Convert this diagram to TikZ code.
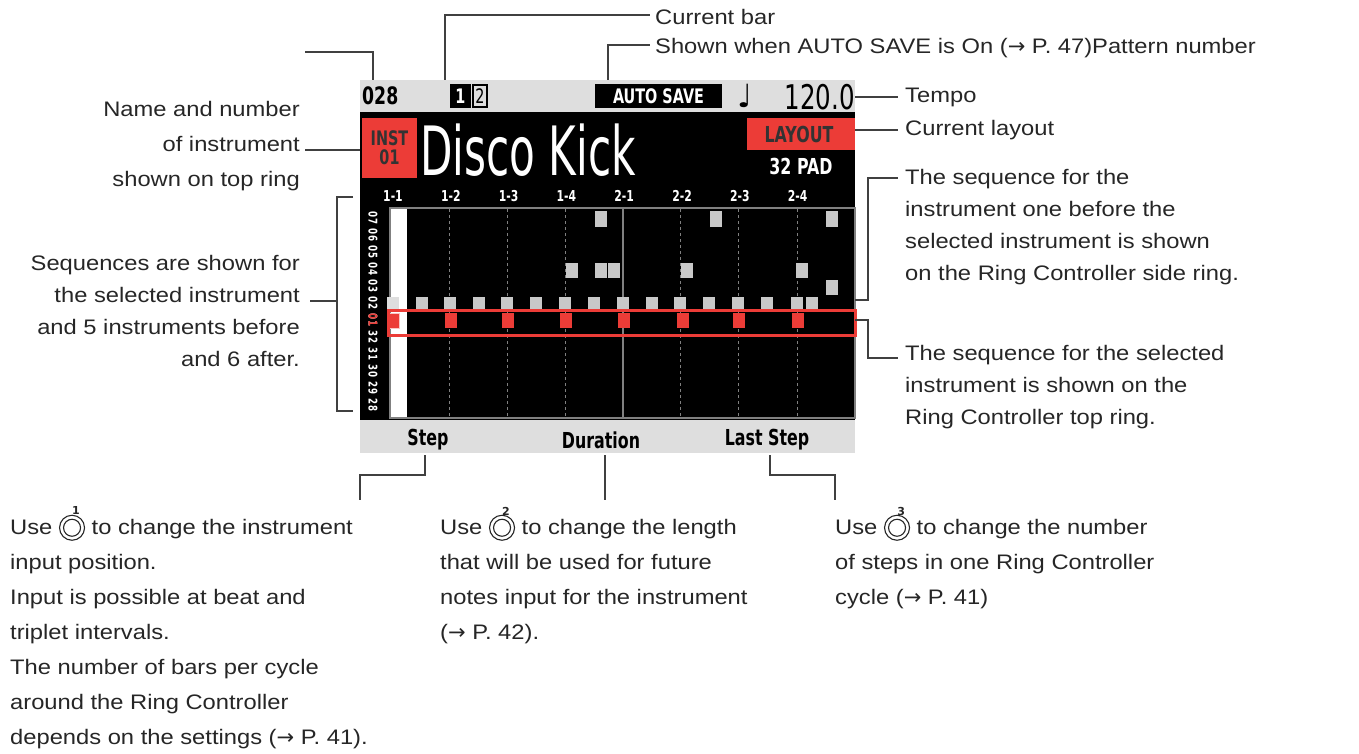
\documentclass[tikz,border=0pt]{standalone}
\usepackage{fontspec}
\setmainfont{Liberation Sans}[FakeStretch=1.13]
\newfontfamily\lcd[FakeStretch=0.72]{DejaVu Sans}
\newfontfamily\lcdname[FakeStretch=0.62]{DejaVu Sans}
\newfontfamily\symb{DejaVu Sans}
\definecolor{lcdred}{RGB}{236,60,55}
\definecolor{lcdgray}{RGB}{200,200,200}
\definecolor{bargray}{RGB}{222,222,222}
\tikzset{
    note/.style={anchor=west,inner sep=0pt,font=\fontsize{21}{22}\selectfont,text=black!85},
    noter/.style={note,anchor=east},
    lead/.style={black!75,line width=1.3pt},
    lcdtxt/.style={inner sep=0pt,font=\lcd\bfseries},
    cell/.style={fill=lcdgray,draw=none}
}
\newcommand{\knob}[1]{\smash{\tikz[baseline=-0.6ex]{\draw[line width=1.1pt] (0,0) circle (12.5pt);
    \draw[line width=1.1pt] (0,0) circle (8.5pt);
    \node[inner sep=0pt,font=\symb\fontsize{11}{11}\selectfont\bfseries] at (0,21pt) {#1};}}}
\begin{document}
\begin{tikzpicture}[x=1pt,y=-1pt]
    \useasboundingbox (0,0) rectangle (1359,754);

    % Screen frame
    \fill[bargray] (360,80) rectangle (855,112);
    \fill[black] (360,112) rectangle (855,420);
    \fill[bargray] (360,420) rectangle (855,453);

    % Status bar
    \node[lcdtxt,anchor=west,font=\lcd\bfseries\fontsize{24}{24}\selectfont] (pat) at (362,96) {028};
    \fill[black] (450,84) rectangle (471,108);
    \draw[black,line width=1.2pt] (473,85) rectangle (487,107);
    \node[lcdtxt,text=white,font=\lcd\bfseries\fontsize{20}{20}\selectfont] (bar1) at (460.5,96) {1};
    \node[lcdtxt,font=\lcd\fontsize{20}{20}\selectfont] (bar2) at (480,96) {2};
    \fill[black] (595,84) rectangle (722,108);
    \node[lcdtxt,text=white,font=\lcd\bfseries\fontsize{20}{20}\selectfont] (autosave) at (658.5,96) {AUTO SAVE};
    \node[inner sep=0pt,font=\symb\fontsize{32}{32}\selectfont] (beat) at (745,96) {♩};
    \node[lcdtxt,anchor=east,font=\lcd\fontsize{34}{34}\selectfont] (tempo) at (855,97) {120.0};

    % Instrument name
    \fill[lcdred] (362,118) rectangle (417,178);
    \node[lcdtxt,text=black!80,align=center,font=\lcd\bfseries\fontsize{20}{19}\selectfont] (inst) at (389.5,148) {INST\\01};
    \node[lcdtxt,anchor=west,text=white,font=\lcdname\fontsize{68}{68}\selectfont] (name) at (420,150) {Disco Kick};
    \fill[lcdred] (747,118) rectangle (855,150);
    \node[lcdtxt,text=black!80,font=\lcd\bfseries\fontsize{22}{22}\selectfont] (layout) at (799,134) {LAYOUT};
    \node[lcdtxt,text=white,font=\lcd\bfseries\fontsize{22}{22}\selectfont] (pad) at (801,166) {32 PAD};

    % Column labels
    \foreach \lab [count=\i from 0] in {1-1,1-2,1-3,1-4,2-1,2-2,2-3,2-4}
        \node[lcdtxt,text=white,font=\lcd\bfseries\fontsize{15}{15}\selectfont] at (393+57.8*\i,196) {\lab};

    % Row labels
    \foreach \lab [count=\i from 0] in {07,06,05,04,03,02,01,32,31,30,29,28}
        \node[lcdtxt,rotate=-90,text=white,font=\lcd\bfseries\fontsize{12}{12}\selectfont] at (373,218+17*\i) {\lab};
    \node[lcdtxt,rotate=-90,text=lcdred,font=\lcd\bfseries\fontsize{12}{12}\selectfont] at (373,320) {01};

    % Grid
    \draw[gray,line width=1.5pt] (390,208) rectangle (855,418);
    \fill[white] (391,209) rectangle (407,417);
    \foreach \x in {449,507,565,680,738,797}
        \draw[gray,dashed,line width=1pt] (\x,209) -- (\x,417);
    \draw[gray,line width=1.3pt] (623,209) -- (623,417);

    % Sequence one before
    \foreach \x in {422,450,479,507,536,565,594,623,652,680,709,738,767,797,812}
        \fill[cell] (\x-6,297) rectangle (\x+6,309);
    \fill[lcdgray!60] (387,297) rectangle (399,309);
    \foreach \x in {601,716,832}
        \fill[cell] (\x-6,211) rectangle (\x+6,227);
    \foreach \x in {572,601,614,687,802}
        \fill[cell] (\x-6,263) rectangle (\x+6,278);
    \fill[cell] (826,280) rectangle (838,295);

    % Selected sequence
    \foreach \x in {450,507,565,623,682,738,797}
        \fill[lcdred] (\x-5,313) rectangle (\x+7,328);
    \fill[lcdred] (387,313) rectangle (400,328);
    \draw[white!70!lcdred,line width=1pt] (388,313) rectangle (399,328);
    \draw[lcdred,line width=3pt] (388,310) rectangle (855,335);

    % Function bar
    \node[lcdtxt,font=\lcd\bfseries\fontsize{22}{22}\selectfont] (step) at (428,440) {Step};
    \node[lcdtxt,font=\lcd\bfseries\fontsize{22}{22}\selectfont] (dur) at (601,440) {Duration};
    \node[lcdtxt,font=\lcd\bfseries\fontsize{22}{22}\selectfont] (last) at (767,440) {Last Step};

    % Top callouts
    \draw[lead] (305,52) -- (373,52) -- (373,80);
    \draw[lead] (445,80) -- (445,15) -- (650,15);
    \node[note] (curbar) at (655,17) {Current bar};
    \draw[lead] (608,80) -- (608,45) -- (650,45);
    \node[note] (shown) at (655,48) {Shown when AUTO SAVE is On ({\symb→} P. 47)Pattern number};
    \draw[lead] (855,97) -- (898,97);
    \node[note] (tmp) at (905,97) {Tempo};
    \draw[lead] (855,130) -- (898,130);
    \node[note] (lay) at (905,130) {Current layout};

    % Right callouts
    \draw[lead] (855,300) -- (868,300) -- (868,178) -- (898,178);
    \node[note,anchor=north west,align=left,font=\fontsize{21}{32}\selectfont] (before) at (905,169)
        {The sequence for the\\instrument one before the\\selected instrument is shown\\on the Ring Controller side ring.};
    \draw[lead] (855,320) -- (868,320) -- (868,358) -- (898,358);
    \node[note,anchor=north west,align=left,font=\fontsize{21}{32}\selectfont] (selseq) at (905,345)
        {The sequence for the selected\\instrument is shown on the\\Ring Controller top ring.};

    % Left callouts
    \node[noter,anchor=north east,align=right,font=\fontsize{21}{35}\selectfont] (namenum) at (300,101)
        {Name and number\\of instrument\\shown on top ring};
    \draw[lead] (305,150) -- (360,150);
    \node[noter,anchor=north east,align=right,font=\fontsize{21}{32}\selectfont] (seqs) at (300,255)
        {Sequences are shown for\\the selected instrument\\and 5 instruments before\\and 6 after.};
    \draw[lead] (310,301) -- (337,301);
    \draw[lead] (353,197) -- (337,197) -- (337,411) -- (353,411);

    % Bottom callouts
    \draw[lead] (425,455) -- (425,475) -- (360,475) -- (360,500);
    \draw[lead] (605,455) -- (605,500);
    \draw[lead] (770,455) -- (770,475) -- (835,475) -- (835,500);
    \node[note,anchor=north west,align=left,font=\fontsize{21}{35}\selectfont] (stepnote) at (10,519)
        {Use \knob{1} to change the instrument\\input position.\\Input is possible at beat and\\triplet intervals.\\The number of bars per cycle\\around the Ring Controller\\depends on the settings ({\symb→} P. 41).};
    \node[note,anchor=north west,align=left,font=\fontsize{21}{35}\selectfont] (durnote) at (440,519)
        {Use \knob{2} to change the length\\that will be used for future\\notes input for the instrument\\({\symb→} P. 42).};
    \node[note,anchor=north west,align=left,font=\fontsize{21}{35}\selectfont] (lastnote) at (835,519)
        {Use \knob{3} to change the number\\of steps in one Ring Controller\\cycle ({\symb→} P. 41)};
\end{tikzpicture}
\end{document}
